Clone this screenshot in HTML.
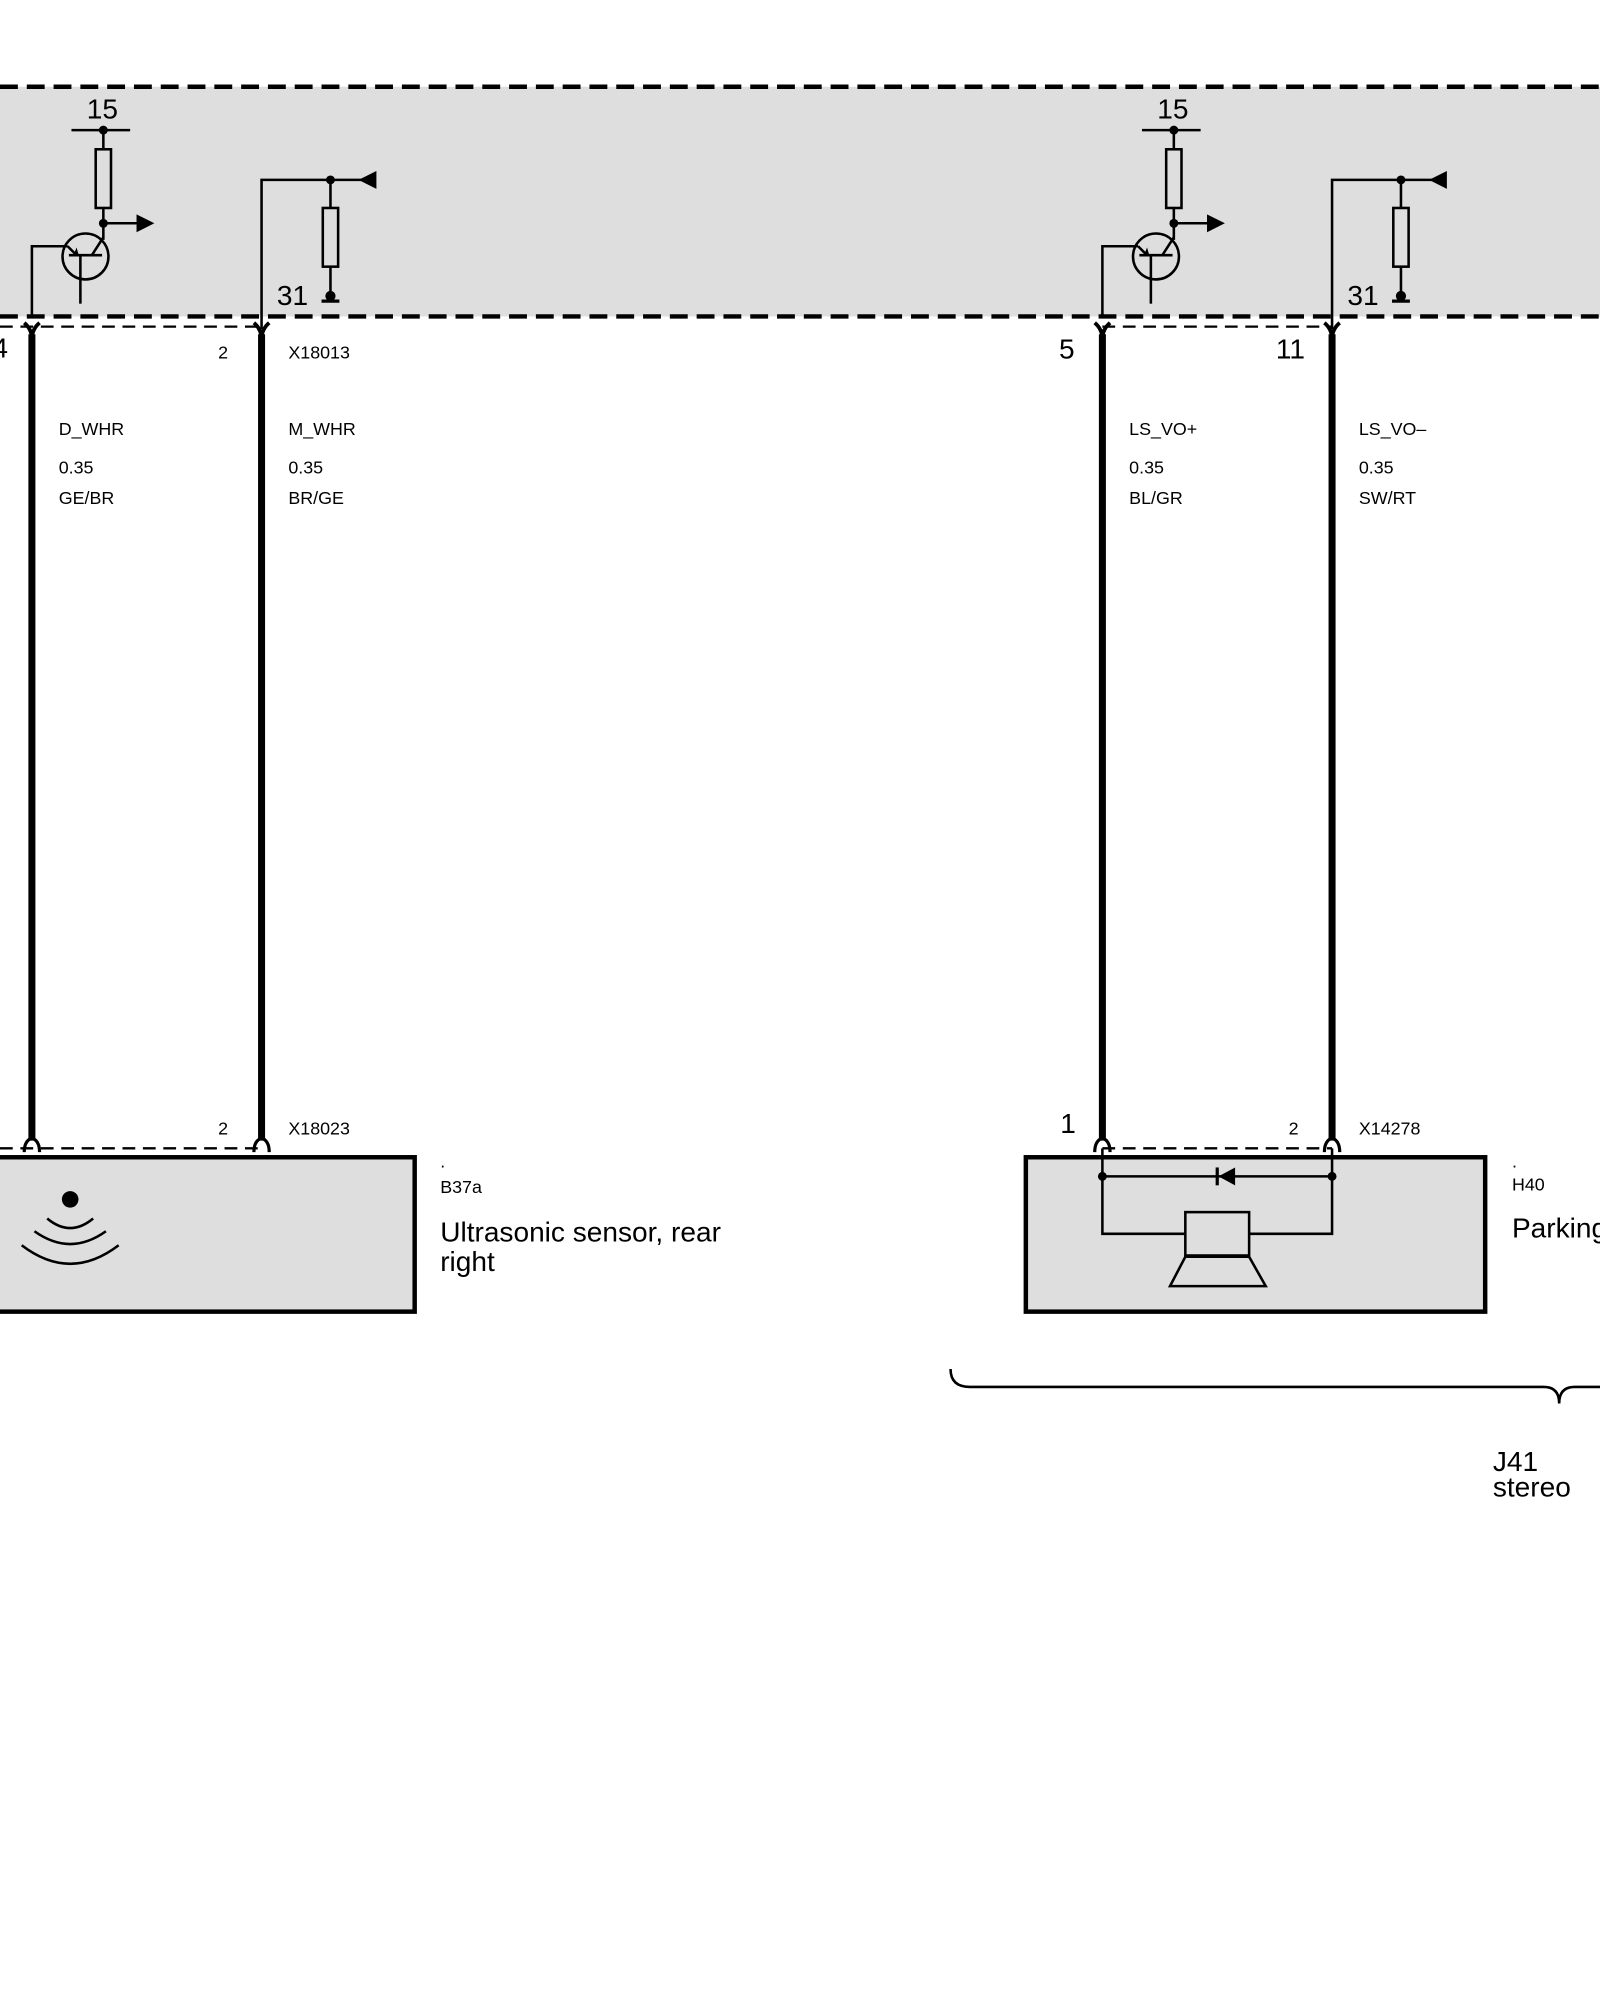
<!DOCTYPE html>
<html><head><style>html,body{margin:0;padding:0;background:#fff}svg{display:block}</style></head><body>
<svg width="1600" height="2000" viewBox="0 0 1254 1567.5" xmlns="http://www.w3.org/2000/svg" font-family="Liberation Sans, Arial, sans-serif">
<rect x="0" y="68" width="1254" height="180" fill="#dedede"/>
<line x1="0" y1="68" x2="1254" y2="68" stroke="#000" stroke-width="3.5" stroke-dasharray="14,7"/>
<line x1="0" y1="248" x2="1254" y2="248" stroke="#000" stroke-width="3.5" stroke-dasharray="14,7"/>
<g stroke="#000" stroke-width="1.8" fill="none">
<line x1="0" y1="256" x2="205" y2="256" stroke-dasharray="10,6"/>
<line x1="864" y1="256" x2="1044" y2="256" stroke-dasharray="10,6"/>
<line x1="0" y1="900" x2="205" y2="900" stroke-dasharray="10,6"/>
<line x1="864" y1="900" x2="1044" y2="900" stroke-dasharray="10,6"/>
</g>
<g id="u">
<g stroke="#000" stroke-width="2" fill="none">
<line x1="56" y1="102" x2="102" y2="102"/>
<line x1="81" y1="102" x2="81" y2="117"/>
<rect x="75" y="117" width="12" height="46" fill="#dedede"/>
<line x1="81" y1="163" x2="81" y2="188"/>
<line x1="81" y1="175" x2="110" y2="175"/>
<circle cx="67" cy="201" r="18"/>
<polyline points="25,248 25,193 53,193"/>
<line x1="54" y1="200" x2="80" y2="200"/>
<line x1="63" y1="200" x2="63" y2="238"/>
<line x1="72" y1="200" x2="81" y2="186"/>
<line x1="53" y1="193" x2="59" y2="199"/>
<polyline points="205,258 205,141 290,141"/>
<rect x="253" y="163" width="12" height="46" fill="#dedede"/>
<line x1="259" y1="141" x2="259" y2="163"/>
<line x1="259" y1="209" x2="259" y2="231"/>
<line x1="252" y1="236" x2="266" y2="236" stroke-width="2.5"/>
</g>
<circle cx="81" cy="102" r="3.5"/><circle cx="81" cy="175" r="3.5"/><circle cx="259" cy="141" r="3.5"/><circle cx="259" cy="232" r="4"/>
<polygon points="107,168 121,175 107,182"/>
<polygon points="295,134 281,141 295,148"/>
<polygon points="58,199 60,194 62,201"/>
<text x="68" y="93" font-size="22">15</text>
<text x="217" y="239" font-size="22">31</text>
<g stroke="#000" fill="none">
<line x1="25" y1="262" x2="25" y2="894" stroke-width="5.5"/>
<line x1="205" y1="262" x2="205" y2="894" stroke-width="5.5"/>
<path d="M19,253 Q25,258 25,266 Q25,258 31,253" stroke-width="3"/>
<path d="M199,253 Q205,258 205,266 Q205,258 211,253" stroke-width="3"/>
<path d="M19,903 Q19,894 25,892 Q31,894 31,903" stroke-width="2.5"/>
<path d="M199,903 Q199,894 205,892 Q211,894 211,903" stroke-width="2.5"/>
</g>
</g>
<use href="#u" transform="translate(839,0)"/>
<g font-size="14">
<text x="171" y="281">2</text><text x="226" y="281">X18013</text>
<text x="46" y="341">D_WHR</text><text x="46" y="371">0.35</text><text x="46" y="395">GE/BR</text>
<text x="226" y="341">M_WHR</text><text x="226" y="371">0.35</text><text x="226" y="395">BR/GE</text>
<text x="171" y="889">2</text><text x="226" y="889">X18023</text>
<text x="885" y="341">LS_VO+</text><text x="885" y="371">0.35</text><text x="885" y="395">BL/GR</text>
<text x="1065" y="341">LS_VO–</text><text x="1065" y="371">0.35</text><text x="1065" y="395">SW/RT</text>
<text x="1010" y="889">2</text><text x="1065" y="889">X14278</text>
<text x="345" y="915">.</text><text x="345" y="935">B37a</text>
<text x="1185" y="915">.</text><text x="1185" y="933">H40</text>
</g>
<g font-size="22">
<text x="-6" y="280">4</text><text x="830" y="281">5</text><text x="1000" y="281">11</text><text x="831" y="888">1</text>
<text x="345" y="973">Ultrasonic sensor, rear</text><text x="345" y="996">right</text>
<text x="1185" y="970">Parking</text>
<text x="1170" y="1153">J41</text><text x="1170" y="1173">stereo</text>
</g>
<rect x="-5" y="907" width="330" height="121" fill="#dedede" stroke="#000" stroke-width="3.5"/>
<rect x="804" y="907" width="360" height="121" fill="#dedede" stroke="#000" stroke-width="3.5"/>
<circle cx="55" cy="940" r="6.5"/>
<g stroke="#000" stroke-width="2" fill="none">
<path d="M37,955 Q55,970 73,955"/><path d="M27,965 Q55,985 83,965"/><path d="M17,976 Q55,1005 93,976"/>
<polyline points="864,900 864,967 929,967"/><polyline points="1044,900 1044,967 979,967"/>
<line x1="864" y1="922" x2="1044" y2="922"/>
<rect x="929" y="950" width="50" height="34"/>
<polygon points="929,985 979,985 992,1008 917,1008"/>
<line x1="954" y1="915" x2="954" y2="929" stroke-width="2.5"/>
<path d="M745,1073 Q745,1087 760,1087 L1210,1087 Q1222,1087 1222,1100 Q1222,1087 1234,1087 L1254,1087"/>
</g>
<circle cx="864" cy="922" r="3.5"/><circle cx="1044" cy="922" r="3.5"/>
<polygon points="955,922 968,915 968,929"/>
</svg>
</body></html>
